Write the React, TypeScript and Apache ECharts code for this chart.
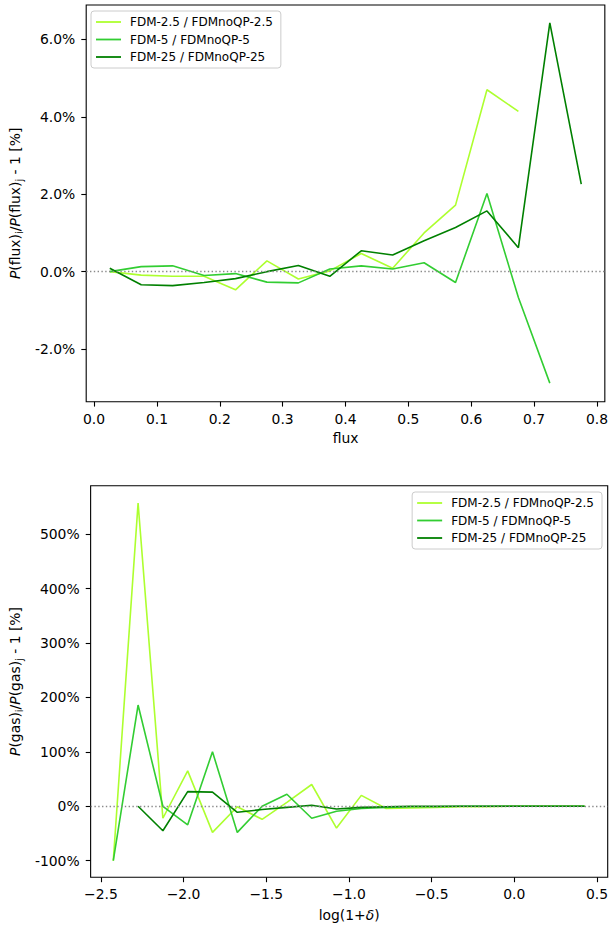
import React, { useEffect, useRef } from 'react';
import * as echarts from 'echarts';

// ---------- data ----------
const seriesNames = ['FDM-2.5 / FDMnoQP-2.5', 'FDM-5 / FDMnoQP-5', 'FDM-25 / FDMnoQP-25'];
const seriesColors = ['#adff2f', '#32cd32', '#008000'];

// top panel: flux PDF ratio (%)
const fluxBins = [0.025, 0.075, 0.125, 0.175, 0.225, 0.275, 0.325, 0.375, 0.425, 0.475, 0.525, 0.575, 0.625, 0.675, 0.725, 0.775];
const fluxFDM2p5 = [0.0, -0.09, -0.12, -0.12, -0.47, 0.28, -0.19, 0.02, 0.47, 0.09, 1.0, 1.72, 4.7, 4.14];
const fluxFDM5 = [0.0, 0.13, 0.15, -0.1, -0.05, -0.27, -0.29, 0.07, 0.15, 0.07, 0.23, -0.28, 2.02, -0.67, -2.88];
const fluxFDM25 = [0.09, -0.34, -0.36, -0.28, -0.18, 0.0, 0.16, -0.12, 0.54, 0.43, 0.8, 1.14, 1.57, 0.62, 6.43, 2.26];
const fluxTicksX = [0, 0.1, 0.2, 0.3, 0.4, 0.5, 0.6, 0.7, 0.8];
const fluxTicksY = [-2, 0, 2, 4, 6];

// bottom panel: gas PDF ratio (%)
const gasBins = [-2.425, -2.275, -2.125, -1.975, -1.825, -1.675, -1.525, -1.375, -1.225, -1.075, -0.925, -0.775, -0.625, -0.475, -0.325, -0.175, -0.025, 0.125, 0.275, 0.425];
const gasFDM2p5 = [-100, 557, -22, 65, -48, -1, -24, 7, 40, -40, 20, -4, -3, -2, -1, -1, 0, 0, 0, 0];
const gasFDM5 = [-100, 186, 0, -34, 100, -48, 0, 22, -22, -9, -4, -2, -1, -1, 0, 0, 0, 0, 0, 0];
const gasFDM25 = [null, 0, -45, 27, 26, -11, -6, -2, 2, -5, -2, -1, 0, 0, 0, 0, 0, 0, 0, 0];
const gasTicksX = [-2.5, -2.0, -1.5, -1.0, -0.5, 0.0, 0.5];
const gasTicksY = [-100, 0, 100, 200, 300, 400, 500];

const FONT = 'DejaVu Sans';
const TICK_FS = 13.9;

function pairs(xs: number[], ys: (number | null)[]) {
  const out: any[] = [];
  for (let i = 0; i < ys.length; i++) out.push([xs[i], ys[i]]);
  return out;
}

function fmtMinus(v: number, d: number) {
  const s = Math.abs(v).toFixed(d);
  return v < 0 ? '\u2212' + s : s;
}

const nameRich = {
  n: { fontFamily: FONT, fontSize: TICK_FS, color: '#000', lineHeight: 18 },
  i: { fontFamily: FONT, fontSize: TICK_FS, color: '#000', fontStyle: 'italic', lineHeight: 18 },
  s: { fontFamily: FONT, fontSize: 10, color: '#000', lineHeight: 11, verticalAlign: 'bottom' },
};

function axisCommon() {
  return {
    axisLine: { show: false, onZero: false },
    splitLine: { show: false },
  };
}

export default function App() {
  const ref = useRef<HTMLDivElement>(null);
  useEffect(() => {
    if (!ref.current) return;
    const chart = echarts.init(ref.current, undefined, { renderer: 'svg' });
    const tickStyle = { show: true, length: 4.9, inside: false, lineStyle: { color: '#000', width: 1.1 } };
    const labelBase = { fontFamily: FONT, fontSize: TICK_FS, color: '#000' };
    const lineSeries = (name: string, color: string, data: any[], xi: number, zeroLine: boolean) => {
      const s: any = {
        type: 'line',
        name,
        xAxisIndex: xi,
        yAxisIndex: xi,
        data,
        symbol: 'none',
        showSymbol: false,
        connectNulls: false,
        lineStyle: { color, width: 1.6 },
        itemStyle: { color },
        emphasis: { disabled: true },
      };
      if (zeroLine) {
        s.markLine = {
          silent: true,
          symbol: ['none', 'none'],
          label: { show: false },
          lineStyle: { color: '#8a8a8a', type: [1.4, 2.4], width: 1.3 },
          data: [{ yAxis: 0 }],
          animation: false,
        };
      }
      return s;
    };
    const legendBase = {
      orient: 'vertical',
      icon: 'rect',
      itemWidth: 25,
      itemHeight: 1.8,
      itemGap: 3.5,
      padding: [4, 8, 4, 5],
      backgroundColor: 'rgba(255,255,255,0.8)',
      borderColor: '#cccccc',
      borderWidth: 1,
      borderRadius: 3,
      textStyle: { fontFamily: FONT, fontSize: 12, color: '#000', lineHeight: 14, padding: [0, 0, 0, 4] },
      data: seriesNames,
      selectedMode: false,
    };
    chart.setOption({
      animation: false,
      backgroundColor: '#fff',
      grid: [
        { left: 85, top: 5, width: 522.7, height: 396.7, show: true, borderColor: '#000', borderWidth: 1.1, backgroundColor: 'transparent' },
        { left: 90, top: 485.7, width: 517.7, height: 391.6, show: true, borderColor: '#000', borderWidth: 1.1, backgroundColor: 'transparent' },
      ],
      legend: [
        { ...legendBase, left: 91, top: 11 },
        { ...legendBase, right: 9, top: 492 },
      ],
      xAxis: [
        {
          type: 'value', gridIndex: 0, min: -0.0125, max: 0.8125, ...axisCommon(),
          axisTick: { ...tickStyle, customValues: fluxTicksX },
          axisLabel: { ...labelBase, margin: 10, customValues: fluxTicksX, formatter: (v: number) => v.toFixed(1) },
          name: 'flux', nameLocation: 'middle', nameGap: 29,
          nameTextStyle: { fontFamily: FONT, fontSize: TICK_FS, color: '#000' },
        },
        {
          type: 'value', gridIndex: 1, min: -2.562, max: 0.565, ...axisCommon(),
          axisTick: { ...tickStyle, customValues: gasTicksX },
          axisLabel: { ...labelBase, margin: 10, customValues: gasTicksX, formatter: (v: number) => fmtMinus(v, 1) },
          name: '{n|log(1+}{i|δ}{n|)}', nameLocation: 'middle', nameGap: 29,
          nameTextStyle: { rich: nameRich },
        },
      ],
      yAxis: [
        {
          type: 'value', gridIndex: 0, min: -3.36, max: 6.89, ...axisCommon(),
          axisTick: { ...tickStyle, customValues: fluxTicksY },
          axisLabel: { ...labelBase, margin: 11, customValues: fluxTicksY, formatter: (v: number) => v.toFixed(1) + '%' },
          name: '{i|P}{n|(flux)}{s|i}{n|/}{i|P}{n|(flux)}{s|j}{n| - 1 [%]}',
          nameLocation: 'middle', nameRotate: 90, nameGap: 56,
          nameTextStyle: { rich: nameRich },
        },
        {
          type: 'value', gridIndex: 1, min: -130.5, max: 589, ...axisCommon(),
          axisTick: { ...tickStyle, customValues: gasTicksY },
          axisLabel: { ...labelBase, margin: 11, customValues: gasTicksY, formatter: (v: number) => v + '%' },
          name: '{i|P}{n|(gas)}{s|i}{n|/}{i|P}{n|(gas)}{s|j}{n| - 1 [%]}',
          nameLocation: 'middle', nameRotate: 90, nameGap: 60,
          nameTextStyle: { rich: nameRich },
        },
      ],
      series: [
        lineSeries(seriesNames[0], seriesColors[0], pairs(fluxBins, fluxFDM2p5), 0, true),
        lineSeries(seriesNames[1], seriesColors[1], pairs(fluxBins, fluxFDM5), 0, false),
        lineSeries(seriesNames[2], seriesColors[2], pairs(fluxBins, fluxFDM25), 0, false),
        lineSeries(seriesNames[0], seriesColors[0], pairs(gasBins, gasFDM2p5), 1, true),
        lineSeries(seriesNames[1], seriesColors[1], pairs(gasBins, gasFDM5), 1, false),
        lineSeries(seriesNames[2], seriesColors[2], pairs(gasBins, gasFDM25), 1, false),
      ],
    });
    return () => chart.dispose();
  }, []);
  return <div ref={ref} style={{ position: 'absolute', left: 0, top: 0, width: 611, height: 927 }} />;
}
